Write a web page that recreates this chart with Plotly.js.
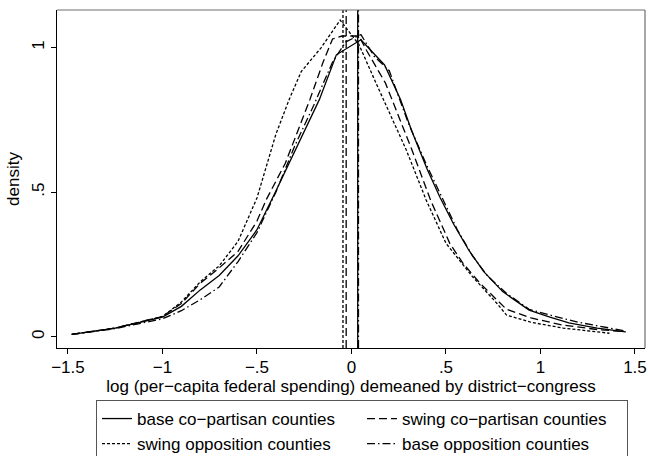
<!DOCTYPE html>
<html>
<head>
<meta charset="utf-8">
<script src="https://cdn.plot.ly/plotly-3.0.1.min.js"></script>
<style>html,body{margin:0;padding:0;background:#fff;}#chart{width:648px;height:456px;}</style>
</head>
<body>
<div id="chart"></div>
<script>
// ---- data ----
const seriesNames = ["base co\u2212partisan counties", "swing co\u2212partisan counties", "swing opposition counties", "base opposition counties"];

const baseCoX = [-1.48,-1.25,-1.0,-0.9,-0.8,-0.7,-0.6,-0.5,-0.41,-0.33,-0.27,-0.17,-0.08,0.05,0.175,0.26,0.32,0.40,0.47,0.54,0.62,0.70,0.80,0.94,1.05,1.15,1.30,1.45];
const baseCoY = [0.008,0.03,0.068,0.105,0.162,0.212,0.28,0.37,0.49,0.60,0.68,0.82,0.975,1.027,0.94,0.82,0.71,0.58,0.48,0.39,0.30,0.225,0.156,0.092,0.068,0.048,0.03,0.017];

const swingCoX = [-1.48,-1.25,-1.0,-0.9,-0.8,-0.7,-0.6,-0.5,-0.45,-0.35,-0.22,-0.15,-0.1,-0.05,0.04,0.08,0.18,0.32,0.42,0.52,0.59,0.68,0.77,0.82,0.95,1.12,1.30,1.45];
const swingCoY = [0.008,0.03,0.07,0.115,0.185,0.238,0.295,0.40,0.475,0.60,0.82,0.95,1.03,1.04,1.04,0.99,0.877,0.646,0.47,0.323,0.254,0.185,0.127,0.095,0.065,0.04,0.025,0.017];

const swingOppX = [-1.48,-1.25,-1.0,-0.9,-0.8,-0.7,-0.6,-0.5,-0.4,-0.33,-0.266,-0.16,-0.06,0.04,0.13,0.29,0.395,0.50,0.64,0.77,0.82,0.95,1.12,1.365];
const swingOppY = [0.008,0.03,0.07,0.12,0.19,0.245,0.33,0.48,0.70,0.82,0.917,1.0,1.095,1.01,0.877,0.646,0.473,0.323,0.208,0.115,0.075,0.05,0.03,0.012];

const baseOppX = [-1.48,-1.25,-1.0,-0.9,-0.8,-0.7,-0.6,-0.5,-0.4,-0.3,-0.2,-0.1,-0.03,0.05,0.12,0.2,0.3,0.4,0.48,0.56,0.64,0.72,0.82,0.94,1.05,1.2,1.45];
const baseOppY = [0.008,0.028,0.062,0.09,0.128,0.172,0.26,0.36,0.50,0.66,0.80,0.95,1.02,1.045,0.97,0.92,0.74,0.59,0.48,0.37,0.28,0.21,0.15,0.095,0.075,0.05,0.02];

// group means (vertical lines), same order as seriesNames
const meanX = [0.033, -0.028, -0.045, 0.037];

const xTickVals = [-1.5,-1,-0.5,0,0.5,1,1.5];
const xTickText = ["\u22121.5","\u22121","\u2212.5","0",".5","1","1.5"];
const yTickVals = [0,0.5,1];
const yTickText = ["0",".5","1"];

// ---- styles ----
const dashes = ["solid", "8px,4px", "3px,2px", "8px,3px,1.5px,3px"];
const FONT = "Liberation Sans, Arial, Helvetica, sans-serif";
const FS = 17;
const xs = [baseCoX, swingCoX, swingOppX, baseOppX];
const ys = [baseCoY, swingCoY, swingOppY, baseOppY];

const traces = seriesNames.map((n, i) => ({
  type: "scatter", mode: "lines", name: n,
  x: xs[i], y: ys[i],
  line: {color: "#000", width: 1.3, dash: dashes[i]},
  hoverinfo: "skip"
}));

const shapes = meanX.map((m, i) => ({
  type: "line", xref: "x", yref: "y domain", x0: m, x1: m, y0: 0, y1: 1,
  line: {color: "#000", width: 1.3, dash: dashes[i]}
}));
// plot region outline (top / right)
shapes.push({type: "line", xref: "paper", yref: "paper", x0: 0, x1: 1, y0: 1, y1: 1, line: {color: "#6e6e6e", width: 1.2}});
shapes.push({type: "line", xref: "paper", yref: "paper", x0: 1, x1: 1, y0: 0, y1: 1, line: {color: "#6e6e6e", width: 1.2}});

const layout = {
  width: 648, height: 456,
  margin: {l: 57, r: 3, t: 10, b: 108},
  paper_bgcolor: "#fff", plot_bgcolor: "#fff",
  font: {family: FONT, size: FS, color: "#000"},
  showlegend: true,
  xaxis: {
    range: [-1.558, 1.553], tickvals: xTickVals, ticktext: xTickText,
    ticks: "outside", ticklen: 5, tickwidth: 1, tickcolor: "#000",
    ticklabelstandoff: -2,
    showline: true, linecolor: "#000", linewidth: 1.2,
    showgrid: false, zeroline: false,
    tickfont: {family: FONT, size: FS},
    title: {text: "log (per\u2212capita federal spending) demeaned by district\u2212congress", font: {family: FONT, size: FS}, standoff: 1}
  },
  yaxis: {
    range: [-0.039, 1.13], tickvals: yTickVals, ticktext: yTickText,
    tickangle: -90,
    ticks: "outside", ticklen: 5, tickwidth: 1, tickcolor: "#000",
    showline: true, linecolor: "#000", linewidth: 1.2,
    showgrid: false, zeroline: false,
    tickfont: {family: FONT, size: FS},
    title: {text: "density", font: {family: FONT, size: FS}, standoff: 5}
  },
  legend: {
    orientation: "h", xref: "paper", yref: "container",
    x: 0.0663, xanchor: "left", y: 0.1228, yanchor: "top",
    entrywidth: 220, entrywidthmode: "pixels",
    bordercolor: "#555", borderwidth: 1, bgcolor: "#fff",
    font: {family: FONT, size: FS}, traceorder: "normal"
  },
  shapes: shapes
};

Plotly.newPlot("chart", traces, layout, {displayModeBar: false, staticPlot: true});
</script>
</body>
</html>
